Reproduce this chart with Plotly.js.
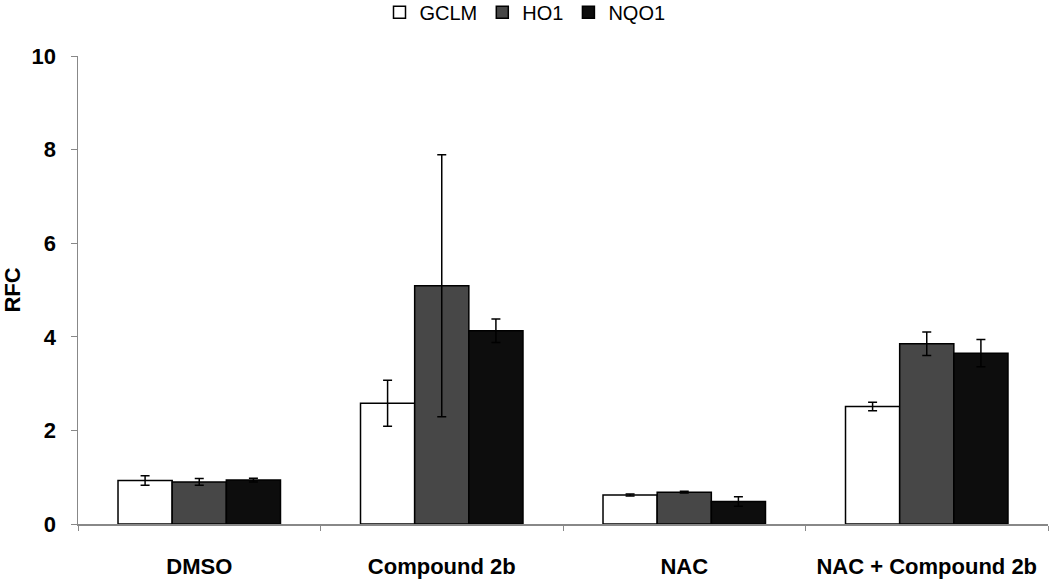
<!DOCTYPE html>
<html>
<head>
<meta charset="utf-8">
<script src="https://cdn.plot.ly/plotly-3.0.1.min.js"></script>
<style>html,body{margin:0;padding:0;background:#fff;}#chart{width:1050px;height:580px;}</style>
</head>
<body>
<div id="chart"></div>
<script>
var categories = ["DMSO", "Compound 2b", "NAC", "NAC + Compound 2b"];
var gclm = [0.93, 2.58, 0.62, 2.51];
var gclmErr = [0.10, 0.49, 0.02, 0.09];
var ho1 = [0.90, 5.09, 0.68, 3.85];
var ho1Err = [0.07, 2.80, 0.02, 0.25];
var nqo1 = [0.94, 4.13, 0.48, 3.65];
var nqo1Err = [0.04, 0.25, 0.10, 0.29];
var yTicks = [0, 2, 4, 6, 8, 10];

function series(name, vals, errs, color) {
  return {
    type: 'bar', name: name, x: categories, y: vals,
    marker: {color: color, line: {color: '#000', width: 1.5}},
    error_y: {type: 'data', array: errs, visible: true, color: '#000', thickness: 1.5, width: 4.5}
  };
}
var data = [
  series('GCLM', gclm, gclmErr, '#ffffff'),
  series('HO1', ho1, ho1Err, '#474747'),
  series('NQO1', nqo1, nqo1Err, '#0d0d0d')
];
var layout = {
  width: 1050, height: 580,
  margin: {l: 78, r: 2, t: 56, b: 56, autoexpand: false},
  paper_bgcolor: '#fff', plot_bgcolor: '#fff',
  barmode: 'group', bargap: 0.33, bargroupgap: 0,
  showlegend: true,
  legend: {orientation: 'h', xref: 'container', yref: 'container', x: 0.5, xanchor: 'center', y: 0.979, yanchor: 'middle',
           font: {family: 'Liberation Sans Narrow, Liberation Sans, Arial', size: 20, color: '#000'},
           itemwidth: 30, tracegroupgap: 0},
  font: {family: 'Liberation Sans, Arial', color: '#000'},
  xaxis: {
    type: 'category', automargin: false, showline: true, linecolor: '#888', linewidth: 1.5,
    ticks: 'outside', tickson: 'boundaries', ticklen: 5, tickcolor: '#888', tickwidth: 1,
    ticklabelstandoff: 22,
    tickfont: {family: 'Liberation Sans, Arial', size: 22, weight: 'bold', color: '#000'},
    showgrid: false, zeroline: false
  },
  yaxis: {
    range: [0, 10], automargin: false, tickvals: yTicks, ticktext: yTicks.map(String),
    showline: true, linecolor: '#888', linewidth: 1.5,
    ticks: 'outside', ticklen: 6, tickcolor: '#888', tickwidth: 1,
    ticklabelstandoff: 10,
    tickfont: {family: 'Liberation Sans, Arial', size: 22, weight: 'bold', color: '#000'},
    showgrid: false, zeroline: false,
    title: {text: 'RFC', font: {family: 'Liberation Sans, Arial', size: 22, weight: 'bold', color: '#000'}, standoff: 22}
  }
};
Plotly.newPlot('chart', data, layout, {displayModeBar: false, staticPlot: true});
</script>
</body>
</html>
